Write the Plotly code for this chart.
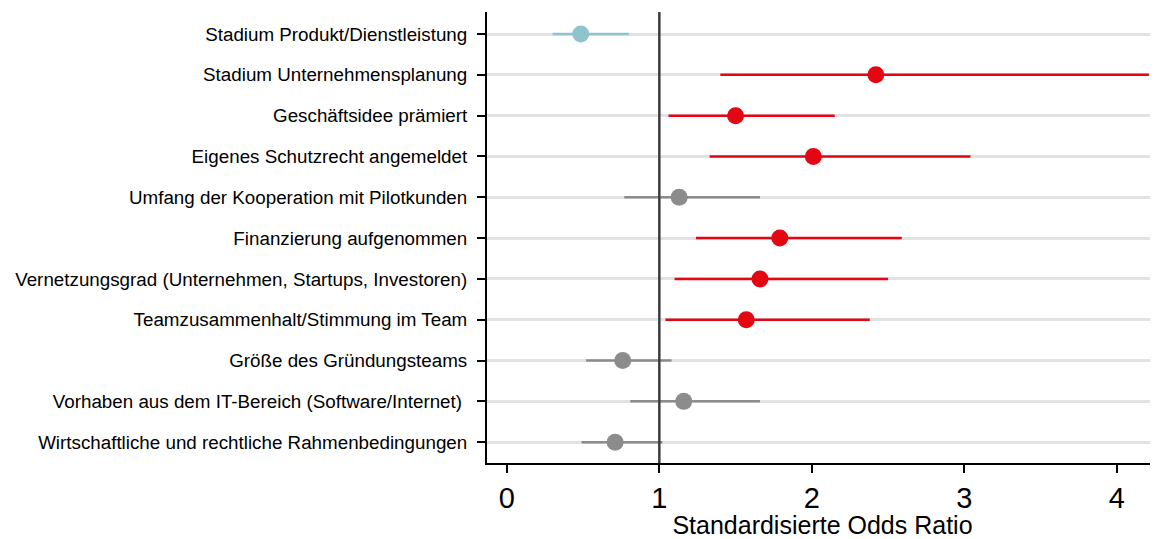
import plotly.graph_objects as go

categories = [
    "Stadium Produkt/Dienstleistung",
    "Stadium Unternehmensplanung",
    "Geschäftsidee prämiert",
    "Eigenes Schutzrecht angemeldet",
    "Umfang der Kooperation mit Pilotkunden",
    "Finanzierung aufgenommen",
    "Vernetzungsgrad (Unternehmen, Startups, Investoren)",
    "Teamzusammenhalt/Stimmung im Team",
    "Größe des Gründungsteams",
    "Vorhaben aus dem IT-Bereich (Software/Internet) ",
    "Wirtschaftliche und rechtliche Rahmenbedingungen",
]
odds_ratio = [0.485, 2.42, 1.50, 2.01, 1.13, 1.79, 1.66, 1.57, 0.76, 1.16, 0.71]
ci_low = [0.30, 1.40, 1.06, 1.33, 0.77, 1.24, 1.10, 1.04, 0.52, 0.81, 0.49]
ci_high = [0.80, 4.21, 2.15, 3.04, 1.66, 2.59, 2.50, 2.38, 1.08, 1.66, 1.02]
groups = ["neg", "pos", "pos", "pos", "ns", "pos", "pos", "pos", "ns", "ns", "ns"]
x_ticks = [0, 1, 2, 3, 4]

group_colors = {"neg": "#8fc4cf", "pos": "#e30613", "ns": "#8c8c8c"}

fig = go.Figure()
for g, col in group_colors.items():
    idx = [i for i, gg in enumerate(groups) if gg == g]
    xs = [odds_ratio[i] for i in idx]
    fig.add_trace(go.Scatter(
        x=xs,
        y=[categories[i] for i in idx],
        mode="markers",
        marker=dict(color=col, size=17),
        error_x=dict(
            type="data",
            symmetric=False,
            array=[ci_high[i] - odds_ratio[i] for i in idx],
            arrayminus=[odds_ratio[i] - ci_low[i] for i in idx],
            color=col,
            thickness=2.5,
            width=0,
        ),
        showlegend=False,
        cliponaxis=False,
    ))

fig.add_shape(type="line", x0=1, x1=1, y0=0, y1=1, xref="x", yref="paper",
              line=dict(color="#3c3c3c", width=2.5), layer="above")

n = len(categories)
fig.update_layout(
    width=1150,
    height=531,
    margin=dict(l=479, r=0, t=4, b=76, autoexpand=False),
    plot_bgcolor="white",
    paper_bgcolor="white",
    font=dict(family="Liberation Sans, Arial", color="black"),
    xaxis=dict(
        range=[-0.13, 4.27],
        tickvals=x_ticks,
        ticktext=[str(v) for v in x_ticks],
        showgrid=False,
        zeroline=False,
        showline=True,
        linecolor="black",
        linewidth=2,
        ticks="outside",
        ticklen=8,
        tickwidth=1.5,
        tickcolor="black",
        tickfont=dict(family="Liberation Sans, Arial", size=29),
        automargin=False,
        title=dict(text="Standardisierte Odds Ratio",
                   font=dict(family="Liberation Sans, Arial", size=25),
                   standoff=2),
    ),
    yaxis=dict(
        type="category",
        categoryorder="array",
        categoryarray=categories,
        range=[n - 1 + 0.51, -0.54],
        showgrid=True,
        gridcolor="#e2e2e2",
        gridwidth=3,
        zeroline=False,
        showline=True,
        linecolor="black",
        linewidth=2,
        ticks="outside",
        ticklen=8,
        tickwidth=1.5,
        tickcolor="black",
        tickfont=dict(family="Liberation Sans, Arial", size=18.8),
        ticklabelstandoff=6,
        automargin=False,
    ),
)

fig.write_html("out.html")
